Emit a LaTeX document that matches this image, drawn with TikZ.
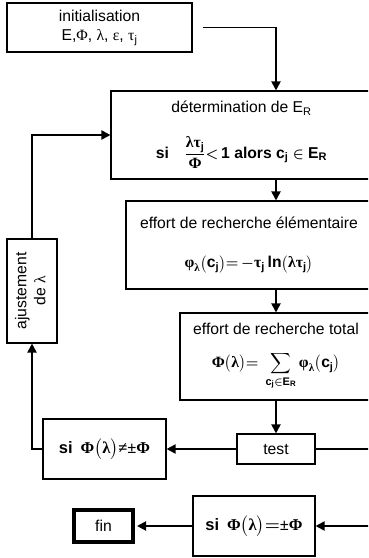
\documentclass[tikz,border=0pt]{standalone}
\usepackage{amsmath}
\usepackage{graphicx}
\usepackage{fontspec}
\setmainfont{Liberation Sans}
\newfontfamily\grk{Liberation Serif}
\newcommand{\gr}[1]{\text{\grk #1}}
\usetikzlibrary{positioning, arrows.meta, calc}

\begin{document}
\begin{tikzpicture}[x=1pt, y=-1pt,
    every node/.style={font=\fontsize{15.7}{19}\selectfont},
    box/.style={rectangle, draw, line width=1.1pt, inner sep=2pt, align=center},
    formule/.style={font=\fontsize{16.5}{19}\selectfont\bfseries\boldmath},
    edge/.style={-{Triangle[length=9pt, width=9pt]}, line width=1.9pt}]

  \useasboundingbox (0,0) rectangle (368,558);
  \clip (0,0) rectangle (368,558);

  \node[box, minimum width=185pt, minimum height=49pt] (init) at (99.5,27.5)
    {initialisation\\E,\gr{Φ}, \gr{λ}, \gr{ε}, \gr{τ}\textsubscript{j}};
  \node[box, minimum width=261pt, minimum height=88pt] (det) at (241.5,135)
    {détermination de E\textsubscript{R}\\[20pt]
     {\bfseries\boldmath si\quad $\dfrac{\gr{λτ}_{\text{j}}}{\gr{Φ}}{<}\,\text{1}$ alors\ c\textsubscript{j} $\in$ E\textsubscript{R}}};
  \node[box, minimum width=246pt, minimum height=88pt] (elem) at (249,245)
    {effort de recherche élémentaire\\[20pt]
     {\bfseries\boldmath $\gr{φ}_{\gr{λ}}\bigl(\text{c}_{\text{j}}\bigr){=}\,{-}\gr{τ}_{\text{j}}\,\text{ln}\bigl(\gr{λτ}_{\text{j}}\bigr)$}};
  \node[box, minimum width=192pt, minimum height=87pt] (total) at (276,356.5)
    {effort de recherche total\\[14pt]
     {\bfseries\boldmath $\gr{Φ}\bigl(\gr{λ}\bigr){=}\ \displaystyle\sum_{\text{c}_{\text{j}}\in\text{E}_{\text{R}}}\gr{φ}_{\gr{λ}}\bigl(\text{c}_{\text{j}}\bigr)$}};
  \node[box, minimum width=78pt, minimum height=30pt] (test) at (276,449) {test};
  \node[box, formule, minimum width=123pt, minimum height=60pt] (neq) at (104.5,449)
    {si\hspace{8pt}$\gr{Φ}\bigl(\gr{λ}\bigr)\gr{≠}\gr{±}\gr{Φ}$};
  \node[box, formule, minimum width=122pt, minimum height=60pt] (eq) at (254,526)
    {si\hspace{8pt}$\gr{Φ}\bigl(\gr{λ}\bigr){=}\gr{±}\gr{Φ}$};
  \node[box, line width=4pt, minimum width=59pt, minimum height=32pt] (fin) at (103.5,526) {fin};
  \node[box, minimum width=50pt, minimum height=104pt] (adj) at (32,291)
    {\rotatebox{90}{\begin{tabular}{@{}c@{}}ajustement\\de \gr{λ}\end{tabular}}};

  \coordinate (depart) at ([xshift=10pt]init.east);

  \draw[edge] (depart) -| (det.north -| test.north);
  \draw[edge] (det.south -| test.north) -- (elem.north -| test.north);
  \draw[edge] (elem.south -| test.north) -- (total.north -| test.north);
  \draw[edge] (total.south -| test.north) -- (test.north);
  \draw[edge] (test.west) -- (neq.east);
  \draw[edge] (neq.west) -| (adj.south);
  \draw[edge] (adj.north) |- (det.west);
  \draw[edge] (test.east) -- ++(80,0) |- (eq.east);
  \draw[edge, shorten >=2pt] (eq.west) -- (fin.east);
\end{tikzpicture}
\end{document}
